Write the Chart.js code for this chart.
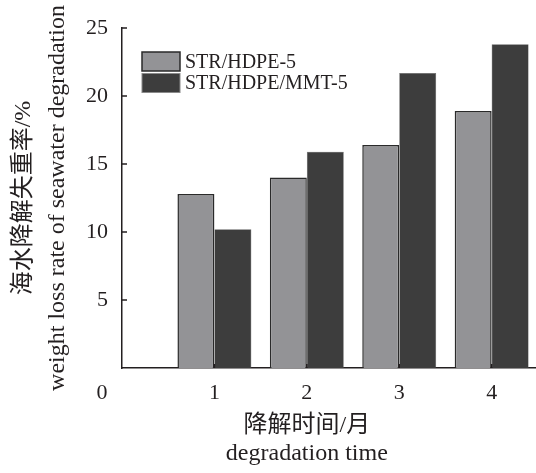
<!DOCTYPE html>
<html>
<head>
<meta charset="utf-8">
<script src="https://cdn.jsdelivr.net/npm/chart.js@4.4.1/dist/chart.umd.min.js"></script>
<style>
  html, body { margin: 0; padding: 0; background: #fff; }
  #c { display: block; }
</style>
</head>
<body>
<canvas id="c" width="536" height="473"></canvas>
<script>
// Degradation time in months and weight loss (%) of each material
const months = [1, 2, 3, 4];
const seriesNames = ['STR/HDPE-5', 'STR/HDPE/MMT-5'];
const lossHDPE = [12.8, 14.0, 16.4, 18.9];
const lossMMT = [10.2, 15.9, 21.7, 23.8];
const yTickValues = [5, 10, 15, 20, 25];
const originLabel = '0';
const xTitle = ['降解时间/月', 'degradation time'];
const yTitle = ['海水降解失重率/%', 'weight loss rate of seawater degradation'];

const FONT = "'Liberation Serif', 'Noto Sans CJK SC', serif";
const INK = '#231f20';
const LIGHT = '#939396';
const DARK = '#3d3d3d';

const toPoints = vals => months.map((m, i) => ({ x: m, y: vals[i] }));

// Inward tick marks, the shared origin label, the x title and the boxed legend
const decor = {
  id: 'decor',
  afterDatasetsDraw(chart) {
    const { ctx, chartArea: a, scales: { x, y } } = chart;
    ctx.save();
    ctx.strokeStyle = INK;
    ctx.lineWidth = 1.5;
    ctx.beginPath();
    yTickValues.forEach(v => {
      const py = y.getPixelForValue(v);
      ctx.moveTo(a.left, py);
      ctx.lineTo(a.left + 5, py);
    });
    months.forEach(m => {
      const px = x.getPixelForValue(m);
      ctx.moveTo(px, a.bottom);
      ctx.lineTo(px, a.bottom - 4);
    });
    ctx.stroke();

    ctx.fillStyle = INK;
    ctx.font = '22px ' + FONT;
    ctx.textAlign = 'center';
    ctx.textBaseline = 'middle';
    ctx.fillText(originLabel, x.getPixelForValue(0) - 20, a.bottom + 25);

    // x-axis title, centred under the middle month
    ctx.font = '24px ' + FONT;
    const tx = x.getPixelForValue(months[1]);
    xTitle.forEach((line, i) => {
      ctx.fillText(line, tx, a.bottom + 58 + i * 28);
    });

    // legend
    const boxW = 38, boxH = 19, gap = 2.5;
    const bx = a.left + 20, by = a.top + 24;
    chart.data.datasets.forEach((ds, i) => {
      const top = by + i * (boxH + gap);
      ctx.fillStyle = ds.backgroundColor;
      ctx.fillRect(bx, top, boxW, boxH);
      ctx.strokeStyle = i === 0 ? '#2a2a2a' : '#8a8a8a';
      ctx.lineWidth = i === 0 ? 1.5 : 1;
      ctx.strokeRect(bx, top, boxW, boxH);
      ctx.fillStyle = INK;
      ctx.font = '20px ' + FONT;
      ctx.textAlign = 'left';
      ctx.textBaseline = 'middle';
      ctx.fillText(ds.label, bx + boxW + 5, top + boxH / 2 + 1);
    });
    ctx.restore();
  }
};

new Chart(document.getElementById('c'), {
  type: 'bar',
  data: {
    datasets: [
      {
        label: seriesNames[0],
        data: toPoints(lossHDPE),
        backgroundColor: LIGHT,
        borderColor: '#2a2a2a',
        borderWidth: 1.5
      },
      {
        label: seriesNames[1],
        data: toPoints(lossMMT),
        backgroundColor: DARK,
        borderColor: '#5a5a5a',
        borderWidth: 0.5
      }
    ]
  },
  options: {
    responsive: false,
    animation: false,
    devicePixelRatio: 1,
    categoryPercentage: 0.8,
    barPercentage: 1.0,
    layout: { padding: { top: 28, right: 0, bottom: 0, left: 0 } },
    plugins: {
      legend: { display: false },
      tooltip: { enabled: false }
    },
    scales: {
      x: {
        type: 'linear',
        offset: false,
        min: 0,
        max: 4.48,
        grid: { display: false, drawTicks: false, offset: false },
        border: { display: true, color: INK, width: 1.5 },
        ticks: {
          stepSize: 1,
          includeBounds: false,
          padding: 12,
          color: INK,
          font: { family: FONT, size: 22 },
          callback: v => (months.includes(v) ? String(v) : '')
        },
        title: { display: false },
        afterFit: s => { s.height = 105; }
      },
      y: {
        min: 0,
        max: 25,
        grid: { display: false, drawTicks: false },
        border: { display: true, color: INK, width: 1.5 },
        ticks: {
          stepSize: 5,
          padding: 14,
          color: INK,
          font: { family: FONT, size: 22 },
          callback: v => (yTickValues.includes(v) ? String(v) : '')
        },
        title: {
          display: true,
          text: yTitle,
          color: INK,
          font: { family: FONT, size: 24, lineHeight: 1.4 },
          padding: { top: 7, bottom: 0 }
        },
        afterFit: s => { s.width = 122; }
      }
    }
  },
  plugins: [decor]
});
</script>
</body>
</html>
